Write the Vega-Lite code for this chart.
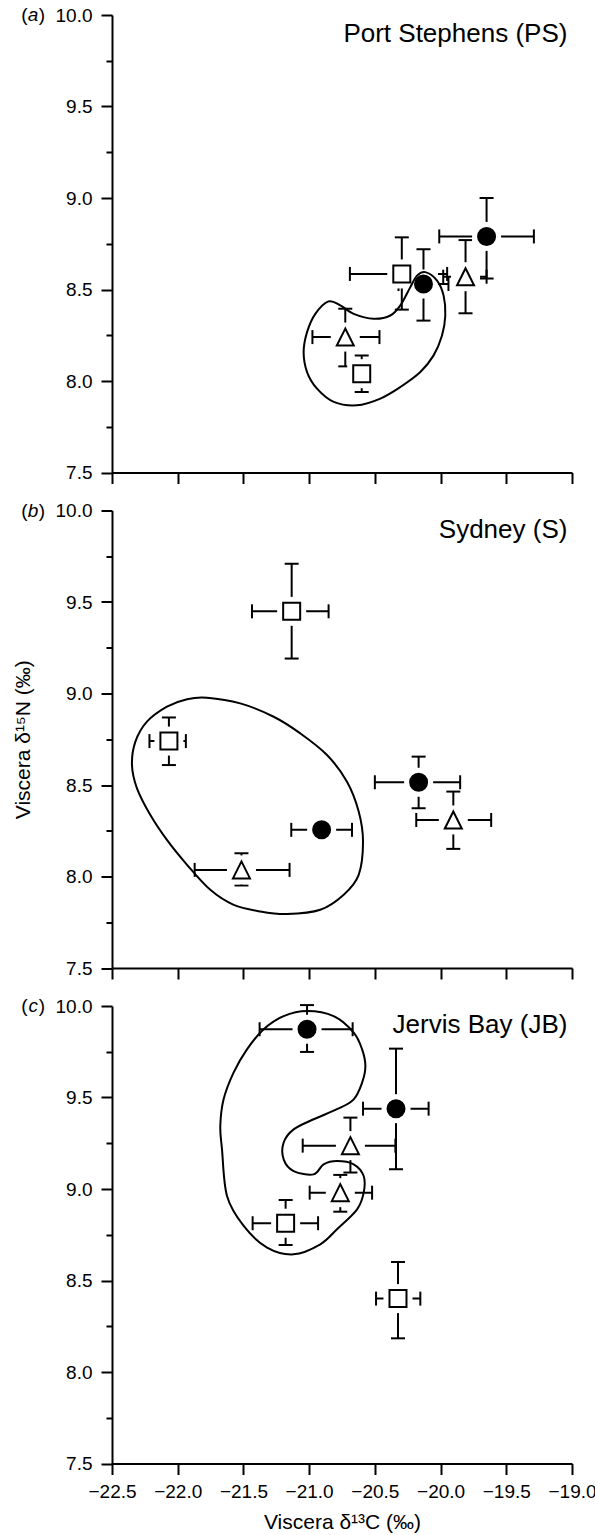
{
"$schema": "https://vega.github.io/schema/vega-lite/v6.json",
"padding": {"top": 6, "left": 12, "right": 0, "bottom": 5},
"background": "white",
"spacing": 37.5,
"bounds": "flush",
"config": {
  "view": {"stroke": null},
  "font": "Liberation Sans",
  "axis": {"domainColor": "black", "domainWidth": 2, "tickColor": "black", "tickWidth": 2, "grid": false,
           "labelFont": "Liberation Sans", "labelFontSize": 19, "labelColor": "black",
           "titleFont": "Liberation Sans", "titleFontSize": 21, "titleColor": "black", "titleFontWeight": "normal"}
},
"datasets": {
  "points": [
    {"panel": "a", "group": "circle", "x": -20.13, "y": 8.53, "xlo": -20.32, "xhi": -19.94, "ylo": 8.33, "yhi": 8.72},
    {"panel": "a", "group": "circle", "x": -19.65, "y": 8.79, "xlo": -20.01, "xhi": -19.29, "ylo": 8.56, "yhi": 9.0},
    {"panel": "a", "group": "triangle", "x": -19.81, "y": 8.57, "xlo": -19.98, "xhi": -19.65, "ylo": 8.37, "yhi": 8.77},
    {"panel": "a", "group": "triangle", "x": -20.725, "y": 8.24, "xlo": -20.975, "xhi": -20.465, "ylo": 8.08, "yhi": 8.395},
    {"panel": "a", "group": "square", "x": -20.295, "y": 8.585, "xlo": -20.69, "xhi": -19.95, "ylo": 8.39, "yhi": 8.785},
    {"panel": "a", "group": "square", "x": -20.6, "y": 8.04, "xlo": -20.64, "xhi": -20.56, "ylo": 7.94, "yhi": 8.14},
    {"panel": "b", "group": "square", "x": -21.133, "y": 9.449, "xlo": -21.435, "xhi": -20.852, "ylo": 9.191, "yhi": 9.709},
    {"panel": "b", "group": "square", "x": -22.067, "y": 8.74, "xlo": -22.215, "xhi": -21.938, "ylo": 8.609, "yhi": 8.869},
    {"panel": "b", "group": "circle", "x": -20.905, "y": 8.255, "xlo": -21.136, "xhi": -20.674, "ylo": 8.22, "yhi": 8.29},
    {"panel": "b", "group": "triangle", "x": -21.515, "y": 8.036, "xlo": -21.871, "xhi": -21.149, "ylo": 7.951, "yhi": 8.127},
    {"panel": "b", "group": "circle", "x": -20.167, "y": 8.515, "xlo": -20.5, "xhi": -19.851, "ylo": 8.373, "yhi": 8.655},
    {"panel": "b", "group": "triangle", "x": -19.903, "y": 8.309, "xlo": -20.185, "xhi": -19.615, "ylo": 8.151, "yhi": 8.464},
    {"panel": "c", "group": "circle", "x": -21.016, "y": 9.873, "xlo": -21.377, "xhi": -20.669, "ylo": 9.749, "yhi": 10.005},
    {"panel": "c", "group": "circle", "x": -20.339, "y": 9.439, "xlo": -20.59, "xhi": -20.091, "ylo": 9.108, "yhi": 9.767},
    {"panel": "c", "group": "triangle", "x": -20.686, "y": 9.237, "xlo": -21.049, "xhi": -20.344, "ylo": 9.09, "yhi": 9.39},
    {"panel": "c", "group": "triangle", "x": -20.763, "y": 8.98, "xlo": -20.996, "xhi": -20.521, "ylo": 8.876, "yhi": 9.077},
    {"panel": "c", "group": "square", "x": -21.179, "y": 8.813, "xlo": -21.43, "xhi": -20.932, "ylo": 8.694, "yhi": 8.94},
    {"panel": "c", "group": "square", "x": -20.324, "y": 8.401, "xlo": -20.491, "xhi": -20.154, "ylo": 8.184, "yhi": 8.601}
  ],
  "outline": [
    {"panel": "a", "i": 0, "x": -20.116, "y": 8.595},
    {"panel": "a", "i": 1, "x": -20.027, "y": 8.549},
    {"panel": "a", "i": 2, "x": -19.977, "y": 8.467},
    {"panel": "a", "i": 3, "x": -19.964, "y": 8.358},
    {"panel": "a", "i": 4, "x": -19.989, "y": 8.249},
    {"panel": "a", "i": 5, "x": -20.053, "y": 8.14},
    {"panel": "a", "i": 6, "x": -20.154, "y": 8.049},
    {"panel": "a", "i": 7, "x": -20.306, "y": 7.967},
    {"panel": "a", "i": 8, "x": -20.458, "y": 7.904},
    {"panel": "a", "i": 9, "x": -20.636, "y": 7.867},
    {"panel": "a", "i": 10, "x": -20.813, "y": 7.886},
    {"panel": "a", "i": 11, "x": -20.94, "y": 7.958},
    {"panel": "a", "i": 12, "x": -21.016, "y": 8.049},
    {"panel": "a", "i": 13, "x": -21.042, "y": 8.158},
    {"panel": "a", "i": 14, "x": -21.016, "y": 8.267},
    {"panel": "a", "i": 15, "x": -20.953, "y": 8.367},
    {"panel": "a", "i": 16, "x": -20.852, "y": 8.435},
    {"panel": "a", "i": 17, "x": -20.763, "y": 8.413},
    {"panel": "a", "i": 18, "x": -20.661, "y": 8.367},
    {"panel": "a", "i": 19, "x": -20.509, "y": 8.34},
    {"panel": "a", "i": 20, "x": -20.382, "y": 8.358},
    {"panel": "a", "i": 21, "x": -20.306, "y": 8.413},
    {"panel": "a", "i": 22, "x": -20.23, "y": 8.513},
    {"panel": "a", "i": 23, "x": -20.179, "y": 8.576},
    {"panel": "b", "i": 0, "x": -21.777, "y": 8.977},
    {"panel": "b", "i": 1, "x": -21.524, "y": 8.946},
    {"panel": "b", "i": 2, "x": -21.27, "y": 8.873},
    {"panel": "b", "i": 3, "x": -21.067, "y": 8.782},
    {"panel": "b", "i": 4, "x": -20.864, "y": 8.664},
    {"panel": "b", "i": 5, "x": -20.712, "y": 8.518},
    {"panel": "b", "i": 6, "x": -20.623, "y": 8.355},
    {"panel": "b", "i": 7, "x": -20.59, "y": 8.191},
    {"panel": "b", "i": 8, "x": -20.623, "y": 8.009},
    {"panel": "b", "i": 9, "x": -20.737, "y": 7.9},
    {"panel": "b", "i": 10, "x": -20.915, "y": 7.818},
    {"panel": "b", "i": 11, "x": -21.169, "y": 7.795},
    {"panel": "b", "i": 12, "x": -21.371, "y": 7.809},
    {"panel": "b", "i": 13, "x": -21.574, "y": 7.845},
    {"panel": "b", "i": 14, "x": -21.752, "y": 7.927},
    {"panel": "b", "i": 15, "x": -21.929, "y": 8.064},
    {"panel": "b", "i": 16, "x": -22.082, "y": 8.2},
    {"panel": "b", "i": 17, "x": -22.208, "y": 8.336},
    {"panel": "b", "i": 18, "x": -22.31, "y": 8.482},
    {"panel": "b", "i": 19, "x": -22.348, "y": 8.609},
    {"panel": "b", "i": 20, "x": -22.322, "y": 8.737},
    {"panel": "b", "i": 21, "x": -22.234, "y": 8.846},
    {"panel": "b", "i": 22, "x": -22.082, "y": 8.928},
    {"panel": "b", "i": 23, "x": -21.929, "y": 8.969},
    {"panel": "c", "i": 0, "x": -21.016, "y": 9.973},
    {"panel": "c", "i": 1, "x": -20.814, "y": 9.945},
    {"panel": "c", "i": 2, "x": -20.661, "y": 9.855},
    {"panel": "c", "i": 3, "x": -20.597, "y": 9.763},
    {"panel": "c", "i": 4, "x": -20.572, "y": 9.672},
    {"panel": "c", "i": 5, "x": -20.597, "y": 9.581},
    {"panel": "c", "i": 6, "x": -20.661, "y": 9.49},
    {"panel": "c", "i": 7, "x": -20.788, "y": 9.436},
    {"panel": "c", "i": 8, "x": -20.966, "y": 9.381},
    {"panel": "c", "i": 9, "x": -21.118, "y": 9.326},
    {"panel": "c", "i": 10, "x": -21.194, "y": 9.254},
    {"panel": "c", "i": 11, "x": -21.194, "y": 9.162},
    {"panel": "c", "i": 12, "x": -21.118, "y": 9.098},
    {"panel": "c", "i": 13, "x": -20.966, "y": 9.08},
    {"panel": "c", "i": 14, "x": -20.89, "y": 9.135},
    {"panel": "c", "i": 15, "x": -20.788, "y": 9.153},
    {"panel": "c", "i": 16, "x": -20.661, "y": 9.135},
    {"panel": "c", "i": 17, "x": -20.585, "y": 9.071},
    {"panel": "c", "i": 18, "x": -20.585, "y": 8.98},
    {"panel": "c", "i": 19, "x": -20.635, "y": 8.889},
    {"panel": "c", "i": 20, "x": -20.788, "y": 8.78},
    {"panel": "c", "i": 21, "x": -20.915, "y": 8.698},
    {"panel": "c", "i": 22, "x": -21.118, "y": 8.643},
    {"panel": "c", "i": 23, "x": -21.32, "y": 8.68},
    {"panel": "c", "i": 24, "x": -21.498, "y": 8.798},
    {"panel": "c", "i": 25, "x": -21.625, "y": 8.962},
    {"panel": "c", "i": 26, "x": -21.663, "y": 9.217},
    {"panel": "c", "i": 27, "x": -21.676, "y": 9.344},
    {"panel": "c", "i": 28, "x": -21.651, "y": 9.49},
    {"panel": "c", "i": 29, "x": -21.575, "y": 9.636},
    {"panel": "c", "i": 30, "x": -21.473, "y": 9.763},
    {"panel": "c", "i": 31, "x": -21.346, "y": 9.873},
    {"panel": "c", "i": 32, "x": -21.194, "y": 9.945}
  ],
  "labels": [
    {"panel": "a", "tag": "a", "site": "Port Stephens (PS)"},
    {"panel": "b", "tag": "b", "site": "Sydney (S)"},
    {"panel": "c", "tag": "c", "site": "Jervis Bay (JB)"}
  ]
},
"vconcat": [
 {
  "width": 460, "height": 457.5,
  "layer": [
   {"data": {"name": "points"}, "transform": [{"filter": "datum.panel === 'a'"}],
    "mark": {"type": "rule", "color": "black", "strokeWidth": 2},
    "encoding": {
      "x": {"field": "xlo", "type": "quantitative", "scale": {"domain": [-22.5, -19], "nice": false, "zero": false},
            "axis": {"values": [-22.5,-22.25,-22,-21.75,-21.5,-21.25,-21,-20.75,-20.5,-20.25,-20,-19.75,-19.5,-19.25,-19], "labels": false, "title": null,
                     "tickSize": {"condition": {"test": "datum.value % 0.5 === 0", "value": 11}, "value": 6}}},
      "x2": {"field": "xhi"},
      "y": {"field": "y", "type": "quantitative", "scale": {"domain": [7.5, 10], "nice": false, "zero": false},
            "axis": {"values": [7.5,7.75,8,8.25,8.5,8.75,9,9.25,9.5,9.75,10], "format": ".1f", "title": null, "labelOverlap": false, "labelPadding": 9,
                     "labelExpr": "datum.value % 0.5 === 0 ? datum.label : ''",
                     "tickSize": {"condition": {"test": "datum.value % 0.5 === 0", "value": 11}, "value": 6}}}
    }},
   {"data": {"name": "points"}, "transform": [{"filter": "datum.panel === 'a'"}],
    "mark": {"type": "rule", "color": "black", "strokeWidth": 2},
    "encoding": {
      "x": {"field": "x", "type": "quantitative", "scale": {"domain": [-22.5, -19], "nice": false, "zero": false}},
      "y": {"field": "ylo", "type": "quantitative", "scale": {"domain": [7.5, 10], "nice": false, "zero": false}},
      "y2": {"field": "yhi"}
    }},
   {"data": {"name": "points"}, "transform": [{"filter": "datum.panel === 'a'"}],
    "mark": {"type": "tick", "orient": "vertical", "size": 14, "thickness": 2, "color": "black", "opacity": 1},
    "encoding": {
      "x": {"field": "xlo", "type": "quantitative", "scale": {"domain": [-22.5, -19], "nice": false, "zero": false}},
      "y": {"field": "y", "type": "quantitative", "scale": {"domain": [7.5, 10], "nice": false, "zero": false}}
    }},
   {"data": {"name": "points"}, "transform": [{"filter": "datum.panel === 'a'"}],
    "mark": {"type": "tick", "orient": "vertical", "size": 14, "thickness": 2, "color": "black", "opacity": 1},
    "encoding": {
      "x": {"field": "xhi", "type": "quantitative", "scale": {"domain": [-22.5, -19], "nice": false, "zero": false}},
      "y": {"field": "y", "type": "quantitative", "scale": {"domain": [7.5, 10], "nice": false, "zero": false}}
    }},
   {"data": {"name": "points"}, "transform": [{"filter": "datum.panel === 'a'"}],
    "mark": {"type": "tick", "orient": "horizontal", "size": 14, "thickness": 2, "color": "black", "opacity": 1},
    "encoding": {
      "x": {"field": "x", "type": "quantitative", "scale": {"domain": [-22.5, -19], "nice": false, "zero": false}},
      "y": {"field": "ylo", "type": "quantitative", "scale": {"domain": [7.5, 10], "nice": false, "zero": false}}
    }},
   {"data": {"name": "points"}, "transform": [{"filter": "datum.panel === 'a'"}],
    "mark": {"type": "tick", "orient": "horizontal", "size": 14, "thickness": 2, "color": "black", "opacity": 1},
    "encoding": {
      "x": {"field": "x", "type": "quantitative", "scale": {"domain": [-22.5, -19], "nice": false, "zero": false}},
      "y": {"field": "yhi", "type": "quantitative", "scale": {"domain": [7.5, 10], "nice": false, "zero": false}}
    }},
   {"data": {"name": "points"}, "transform": [{"filter": "datum.panel === 'a'"}],
    "mark": {"type": "point", "shape": "square", "size": 841, "filled": true, "color": "white", "strokeWidth": 0, "opacity": 1},
    "encoding": {
      "x": {"field": "x", "type": "quantitative", "scale": {"domain": [-22.5, -19], "nice": false, "zero": false}},
      "y": {"field": "y", "type": "quantitative", "scale": {"domain": [7.5, 10], "nice": false, "zero": false}}
    }},
   {"data": {"name": "outline"}, "transform": [{"filter": "datum.panel === 'a'"}],
    "mark": {"type": "line", "interpolate": "cardinal-closed", "color": "black", "strokeWidth": 2},
    "encoding": {
      "x": {"field": "x", "type": "quantitative", "scale": {"domain": [-22.5, -19], "nice": false, "zero": false}},
      "y": {"field": "y", "type": "quantitative", "scale": {"domain": [7.5, 10], "nice": false, "zero": false}},
      "order": {"field": "i", "type": "quantitative"}
    }},
   {"data": {"name": "points"}, "transform": [{"filter": "datum.panel === 'a'"}],
    "mark": {"type": "point", "filled": true, "size": 289, "stroke": "black", "strokeWidth": 2, "opacity": 1},
    "encoding": {
      "x": {"field": "x", "type": "quantitative", "scale": {"domain": [-22.5, -19], "nice": false, "zero": false}},
      "y": {"field": "y", "type": "quantitative", "scale": {"domain": [7.5, 10], "nice": false, "zero": false}},
      "shape": {"field": "group", "type": "nominal", "scale": {"domain": ["circle", "triangle", "square"], "range": ["M1,0A1,1,0,1,1,-1,0A1,1,0,1,1,1,0Z", "M0,-1L-1,1L1,1Z", "M-1,-1H1V1H-1Z"]}, "legend": null},
      "fill": {"field": "group", "type": "nominal", "scale": {"domain": ["circle", "triangle", "square"], "range": ["black", "white", "white"]}, "legend": null}
    }},
   {"data": {"name": "labels"}, "transform": [{"filter": "datum.panel === 'a'"}],
    "mark": {"type": "text", "align": "right", "baseline": "alphabetic", "fontSize": 26, "color": "black"},
    "encoding": {
      "x": {"datum": -19.035, "type": "quantitative", "scale": {"domain": [-22.5, -19], "nice": false, "zero": false}},
      "y": {"datum": 9.85, "type": "quantitative", "scale": {"domain": [7.5, 10], "nice": false, "zero": false}},
      "text": {"field": "site"}
    }},
   {"data": {"name": "labels"}, "transform": [{"filter": "datum.panel === 'a'"}],
    "mark": {"type": "text", "align": "right", "baseline": "middle", "fontSize": 19, "color": "black", "text": "(", "dx": -5.5},
    "encoding": {
      "x": {"datum": -23.1, "type": "quantitative", "scale": {"domain": [-22.5, -19], "nice": false, "zero": false}},
      "y": {"datum": 10, "type": "quantitative", "scale": {"domain": [7.5, 10], "nice": false, "zero": false}}
    }},
   {"data": {"name": "labels"}, "transform": [{"filter": "datum.panel === 'a'"}],
    "mark": {"type": "text", "align": "center", "baseline": "middle", "fontSize": 19, "fontStyle": "italic", "color": "black"},
    "encoding": {
      "x": {"datum": -23.1, "type": "quantitative", "scale": {"domain": [-22.5, -19], "nice": false, "zero": false}},
      "y": {"datum": 10, "type": "quantitative", "scale": {"domain": [7.5, 10], "nice": false, "zero": false}},
      "text": {"field": "tag"}
    }},
   {"data": {"name": "labels"}, "transform": [{"filter": "datum.panel === 'a'"}],
    "mark": {"type": "text", "align": "left", "baseline": "middle", "fontSize": 19, "color": "black", "text": ")", "dx": 5.5},
    "encoding": {
      "x": {"datum": -23.1, "type": "quantitative", "scale": {"domain": [-22.5, -19], "nice": false, "zero": false}},
      "y": {"datum": 10, "type": "quantitative", "scale": {"domain": [7.5, 10], "nice": false, "zero": false}}
    }}
  ]
 },
 {
  "width": 460, "height": 457.5,
  "layer": [
   {"data": {"name": "points"}, "transform": [{"filter": "datum.panel === 'b'"}],
    "mark": {"type": "rule", "color": "black", "strokeWidth": 2},
    "encoding": {
      "x": {"field": "xlo", "type": "quantitative", "scale": {"domain": [-22.5, -19], "nice": false, "zero": false},
            "axis": {"values": [-22.5,-22.25,-22,-21.75,-21.5,-21.25,-21,-20.75,-20.5,-20.25,-20,-19.75,-19.5,-19.25,-19], "labels": false, "title": null,
                     "tickSize": {"condition": {"test": "datum.value % 0.5 === 0", "value": 11}, "value": 6}}},
      "x2": {"field": "xhi"},
      "y": {"field": "y", "type": "quantitative", "scale": {"domain": [7.5, 10], "nice": false, "zero": false},
            "axis": {"values": [7.5,7.75,8,8.25,8.5,8.75,9,9.25,9.5,9.75,10], "format": ".1f", "title": "Viscera δ¹⁵N (‰)", "titlePadding": 22, "labelOverlap": false, "labelPadding": 9,
                     "labelExpr": "datum.value % 0.5 === 0 ? datum.label : ''",
                     "tickSize": {"condition": {"test": "datum.value % 0.5 === 0", "value": 11}, "value": 6}}}
    }},
   {"data": {"name": "points"}, "transform": [{"filter": "datum.panel === 'b'"}],
    "mark": {"type": "rule", "color": "black", "strokeWidth": 2},
    "encoding": {
      "x": {"field": "x", "type": "quantitative", "scale": {"domain": [-22.5, -19], "nice": false, "zero": false}},
      "y": {"field": "ylo", "type": "quantitative", "scale": {"domain": [7.5, 10], "nice": false, "zero": false}},
      "y2": {"field": "yhi"}
    }},
   {"data": {"name": "points"}, "transform": [{"filter": "datum.panel === 'b'"}],
    "mark": {"type": "tick", "orient": "vertical", "size": 14, "thickness": 2, "color": "black", "opacity": 1},
    "encoding": {
      "x": {"field": "xlo", "type": "quantitative", "scale": {"domain": [-22.5, -19], "nice": false, "zero": false}},
      "y": {"field": "y", "type": "quantitative", "scale": {"domain": [7.5, 10], "nice": false, "zero": false}}
    }},
   {"data": {"name": "points"}, "transform": [{"filter": "datum.panel === 'b'"}],
    "mark": {"type": "tick", "orient": "vertical", "size": 14, "thickness": 2, "color": "black", "opacity": 1},
    "encoding": {
      "x": {"field": "xhi", "type": "quantitative", "scale": {"domain": [-22.5, -19], "nice": false, "zero": false}},
      "y": {"field": "y", "type": "quantitative", "scale": {"domain": [7.5, 10], "nice": false, "zero": false}}
    }},
   {"data": {"name": "points"}, "transform": [{"filter": "datum.panel === 'b'"}],
    "mark": {"type": "tick", "orient": "horizontal", "size": 14, "thickness": 2, "color": "black", "opacity": 1},
    "encoding": {
      "x": {"field": "x", "type": "quantitative", "scale": {"domain": [-22.5, -19], "nice": false, "zero": false}},
      "y": {"field": "ylo", "type": "quantitative", "scale": {"domain": [7.5, 10], "nice": false, "zero": false}}
    }},
   {"data": {"name": "points"}, "transform": [{"filter": "datum.panel === 'b'"}],
    "mark": {"type": "tick", "orient": "horizontal", "size": 14, "thickness": 2, "color": "black", "opacity": 1},
    "encoding": {
      "x": {"field": "x", "type": "quantitative", "scale": {"domain": [-22.5, -19], "nice": false, "zero": false}},
      "y": {"field": "yhi", "type": "quantitative", "scale": {"domain": [7.5, 10], "nice": false, "zero": false}}
    }},
   {"data": {"name": "points"}, "transform": [{"filter": "datum.panel === 'b'"}],
    "mark": {"type": "point", "shape": "square", "size": 841, "filled": true, "color": "white", "strokeWidth": 0, "opacity": 1},
    "encoding": {
      "x": {"field": "x", "type": "quantitative", "scale": {"domain": [-22.5, -19], "nice": false, "zero": false}},
      "y": {"field": "y", "type": "quantitative", "scale": {"domain": [7.5, 10], "nice": false, "zero": false}}
    }},
   {"data": {"name": "outline"}, "transform": [{"filter": "datum.panel === 'b'"}],
    "mark": {"type": "line", "interpolate": "cardinal-closed", "color": "black", "strokeWidth": 2},
    "encoding": {
      "x": {"field": "x", "type": "quantitative", "scale": {"domain": [-22.5, -19], "nice": false, "zero": false}},
      "y": {"field": "y", "type": "quantitative", "scale": {"domain": [7.5, 10], "nice": false, "zero": false}},
      "order": {"field": "i", "type": "quantitative"}
    }},
   {"data": {"name": "points"}, "transform": [{"filter": "datum.panel === 'b'"}],
    "mark": {"type": "point", "filled": true, "size": 289, "stroke": "black", "strokeWidth": 2, "opacity": 1},
    "encoding": {
      "x": {"field": "x", "type": "quantitative", "scale": {"domain": [-22.5, -19], "nice": false, "zero": false}},
      "y": {"field": "y", "type": "quantitative", "scale": {"domain": [7.5, 10], "nice": false, "zero": false}},
      "shape": {"field": "group", "type": "nominal", "scale": {"domain": ["circle", "triangle", "square"], "range": ["M1,0A1,1,0,1,1,-1,0A1,1,0,1,1,1,0Z", "M0,-1L-1,1L1,1Z", "M-1,-1H1V1H-1Z"]}, "legend": null},
      "fill": {"field": "group", "type": "nominal", "scale": {"domain": ["circle", "triangle", "square"], "range": ["black", "white", "white"]}, "legend": null}
    }},
   {"data": {"name": "labels"}, "transform": [{"filter": "datum.panel === 'b'"}],
    "mark": {"type": "text", "align": "right", "baseline": "alphabetic", "fontSize": 26, "color": "black"},
    "encoding": {
      "x": {"datum": -19.035, "type": "quantitative", "scale": {"domain": [-22.5, -19], "nice": false, "zero": false}},
      "y": {"datum": 9.85, "type": "quantitative", "scale": {"domain": [7.5, 10], "nice": false, "zero": false}},
      "text": {"field": "site"}
    }},
   {"data": {"name": "labels"}, "transform": [{"filter": "datum.panel === 'b'"}],
    "mark": {"type": "text", "align": "right", "baseline": "middle", "fontSize": 19, "color": "black", "text": "(", "dx": -5.5},
    "encoding": {
      "x": {"datum": -23.1, "type": "quantitative", "scale": {"domain": [-22.5, -19], "nice": false, "zero": false}},
      "y": {"datum": 10, "type": "quantitative", "scale": {"domain": [7.5, 10], "nice": false, "zero": false}}
    }},
   {"data": {"name": "labels"}, "transform": [{"filter": "datum.panel === 'b'"}],
    "mark": {"type": "text", "align": "center", "baseline": "middle", "fontSize": 19, "fontStyle": "italic", "color": "black"},
    "encoding": {
      "x": {"datum": -23.1, "type": "quantitative", "scale": {"domain": [-22.5, -19], "nice": false, "zero": false}},
      "y": {"datum": 10, "type": "quantitative", "scale": {"domain": [7.5, 10], "nice": false, "zero": false}},
      "text": {"field": "tag"}
    }},
   {"data": {"name": "labels"}, "transform": [{"filter": "datum.panel === 'b'"}],
    "mark": {"type": "text", "align": "left", "baseline": "middle", "fontSize": 19, "color": "black", "text": ")", "dx": 5.5},
    "encoding": {
      "x": {"datum": -23.1, "type": "quantitative", "scale": {"domain": [-22.5, -19], "nice": false, "zero": false}},
      "y": {"datum": 10, "type": "quantitative", "scale": {"domain": [7.5, 10], "nice": false, "zero": false}}
    }}
  ]
 },
 {
  "width": 460, "height": 457.5,
  "layer": [
   {"data": {"name": "points"}, "transform": [{"filter": "datum.panel === 'c'"}],
    "mark": {"type": "rule", "color": "black", "strokeWidth": 2},
    "encoding": {
      "x": {"field": "xlo", "type": "quantitative", "scale": {"domain": [-22.5, -19], "nice": false, "zero": false},
            "axis": {"values": [-22.5,-22.25,-22,-21.75,-21.5,-21.25,-21,-20.75,-20.5,-20.25,-20,-19.75,-19.5,-19.25,-19], "format": ".1f", "title": "Viscera δ¹³C (‰)", "titlePadding": 10,
                     "labelFlush": false, "labelOverlap": false, "labelPadding": 8,
                     "labelExpr": "datum.value % 0.5 === 0 ? datum.label : ''",
                     "tickSize": {"condition": {"test": "datum.value % 0.5 === 0", "value": 11}, "value": 6}}},
      "x2": {"field": "xhi"},
      "y": {"field": "y", "type": "quantitative", "scale": {"domain": [7.5, 10], "nice": false, "zero": false},
            "axis": {"values": [7.5,7.75,8,8.25,8.5,8.75,9,9.25,9.5,9.75,10], "format": ".1f", "title": null, "labelOverlap": false, "labelPadding": 9,
                     "labelExpr": "datum.value % 0.5 === 0 ? datum.label : ''",
                     "tickSize": {"condition": {"test": "datum.value % 0.5 === 0", "value": 11}, "value": 6}}}
    }},
   {"data": {"name": "points"}, "transform": [{"filter": "datum.panel === 'c'"}],
    "mark": {"type": "rule", "color": "black", "strokeWidth": 2},
    "encoding": {
      "x": {"field": "x", "type": "quantitative", "scale": {"domain": [-22.5, -19], "nice": false, "zero": false}},
      "y": {"field": "ylo", "type": "quantitative", "scale": {"domain": [7.5, 10], "nice": false, "zero": false}},
      "y2": {"field": "yhi"}
    }},
   {"data": {"name": "points"}, "transform": [{"filter": "datum.panel === 'c'"}],
    "mark": {"type": "tick", "orient": "vertical", "size": 14, "thickness": 2, "color": "black", "opacity": 1},
    "encoding": {
      "x": {"field": "xlo", "type": "quantitative", "scale": {"domain": [-22.5, -19], "nice": false, "zero": false}},
      "y": {"field": "y", "type": "quantitative", "scale": {"domain": [7.5, 10], "nice": false, "zero": false}}
    }},
   {"data": {"name": "points"}, "transform": [{"filter": "datum.panel === 'c'"}],
    "mark": {"type": "tick", "orient": "vertical", "size": 14, "thickness": 2, "color": "black", "opacity": 1},
    "encoding": {
      "x": {"field": "xhi", "type": "quantitative", "scale": {"domain": [-22.5, -19], "nice": false, "zero": false}},
      "y": {"field": "y", "type": "quantitative", "scale": {"domain": [7.5, 10], "nice": false, "zero": false}}
    }},
   {"data": {"name": "points"}, "transform": [{"filter": "datum.panel === 'c'"}],
    "mark": {"type": "tick", "orient": "horizontal", "size": 14, "thickness": 2, "color": "black", "opacity": 1},
    "encoding": {
      "x": {"field": "x", "type": "quantitative", "scale": {"domain": [-22.5, -19], "nice": false, "zero": false}},
      "y": {"field": "ylo", "type": "quantitative", "scale": {"domain": [7.5, 10], "nice": false, "zero": false}}
    }},
   {"data": {"name": "points"}, "transform": [{"filter": "datum.panel === 'c'"}],
    "mark": {"type": "tick", "orient": "horizontal", "size": 14, "thickness": 2, "color": "black", "opacity": 1},
    "encoding": {
      "x": {"field": "x", "type": "quantitative", "scale": {"domain": [-22.5, -19], "nice": false, "zero": false}},
      "y": {"field": "yhi", "type": "quantitative", "scale": {"domain": [7.5, 10], "nice": false, "zero": false}}
    }},
   {"data": {"name": "points"}, "transform": [{"filter": "datum.panel === 'c'"}],
    "mark": {"type": "point", "shape": "square", "size": 841, "filled": true, "color": "white", "strokeWidth": 0, "opacity": 1},
    "encoding": {
      "x": {"field": "x", "type": "quantitative", "scale": {"domain": [-22.5, -19], "nice": false, "zero": false}},
      "y": {"field": "y", "type": "quantitative", "scale": {"domain": [7.5, 10], "nice": false, "zero": false}}
    }},
   {"data": {"name": "outline"}, "transform": [{"filter": "datum.panel === 'c'"}],
    "mark": {"type": "line", "interpolate": "cardinal-closed", "color": "black", "strokeWidth": 2},
    "encoding": {
      "x": {"field": "x", "type": "quantitative", "scale": {"domain": [-22.5, -19], "nice": false, "zero": false}},
      "y": {"field": "y", "type": "quantitative", "scale": {"domain": [7.5, 10], "nice": false, "zero": false}},
      "order": {"field": "i", "type": "quantitative"}
    }},
   {"data": {"name": "points"}, "transform": [{"filter": "datum.panel === 'c'"}],
    "mark": {"type": "point", "filled": true, "size": 289, "stroke": "black", "strokeWidth": 2, "opacity": 1},
    "encoding": {
      "x": {"field": "x", "type": "quantitative", "scale": {"domain": [-22.5, -19], "nice": false, "zero": false}},
      "y": {"field": "y", "type": "quantitative", "scale": {"domain": [7.5, 10], "nice": false, "zero": false}},
      "shape": {"field": "group", "type": "nominal", "scale": {"domain": ["circle", "triangle", "square"], "range": ["M1,0A1,1,0,1,1,-1,0A1,1,0,1,1,1,0Z", "M0,-1L-1,1L1,1Z", "M-1,-1H1V1H-1Z"]}, "legend": null},
      "fill": {"field": "group", "type": "nominal", "scale": {"domain": ["circle", "triangle", "square"], "range": ["black", "white", "white"]}, "legend": null}
    }},
   {"data": {"name": "labels"}, "transform": [{"filter": "datum.panel === 'c'"}],
    "mark": {"type": "text", "align": "right", "baseline": "alphabetic", "fontSize": 26, "color": "black"},
    "encoding": {
      "x": {"datum": -19.035, "type": "quantitative", "scale": {"domain": [-22.5, -19], "nice": false, "zero": false}},
      "y": {"datum": 9.85, "type": "quantitative", "scale": {"domain": [7.5, 10], "nice": false, "zero": false}},
      "text": {"field": "site"}
    }},
   {"data": {"name": "labels"}, "transform": [{"filter": "datum.panel === 'c'"}],
    "mark": {"type": "text", "align": "right", "baseline": "middle", "fontSize": 19, "color": "black", "text": "(", "dx": -5.5},
    "encoding": {
      "x": {"datum": -23.1, "type": "quantitative", "scale": {"domain": [-22.5, -19], "nice": false, "zero": false}},
      "y": {"datum": 10, "type": "quantitative", "scale": {"domain": [7.5, 10], "nice": false, "zero": false}}
    }},
   {"data": {"name": "labels"}, "transform": [{"filter": "datum.panel === 'c'"}],
    "mark": {"type": "text", "align": "center", "baseline": "middle", "fontSize": 19, "fontStyle": "italic", "color": "black"},
    "encoding": {
      "x": {"datum": -23.1, "type": "quantitative", "scale": {"domain": [-22.5, -19], "nice": false, "zero": false}},
      "y": {"datum": 10, "type": "quantitative", "scale": {"domain": [7.5, 10], "nice": false, "zero": false}},
      "text": {"field": "tag"}
    }},
   {"data": {"name": "labels"}, "transform": [{"filter": "datum.panel === 'c'"}],
    "mark": {"type": "text", "align": "left", "baseline": "middle", "fontSize": 19, "color": "black", "text": ")", "dx": 5.5},
    "encoding": {
      "x": {"datum": -23.1, "type": "quantitative", "scale": {"domain": [-22.5, -19], "nice": false, "zero": false}},
      "y": {"datum": 10, "type": "quantitative", "scale": {"domain": [7.5, 10], "nice": false, "zero": false}}
    }}
  ]
 }
]
}
